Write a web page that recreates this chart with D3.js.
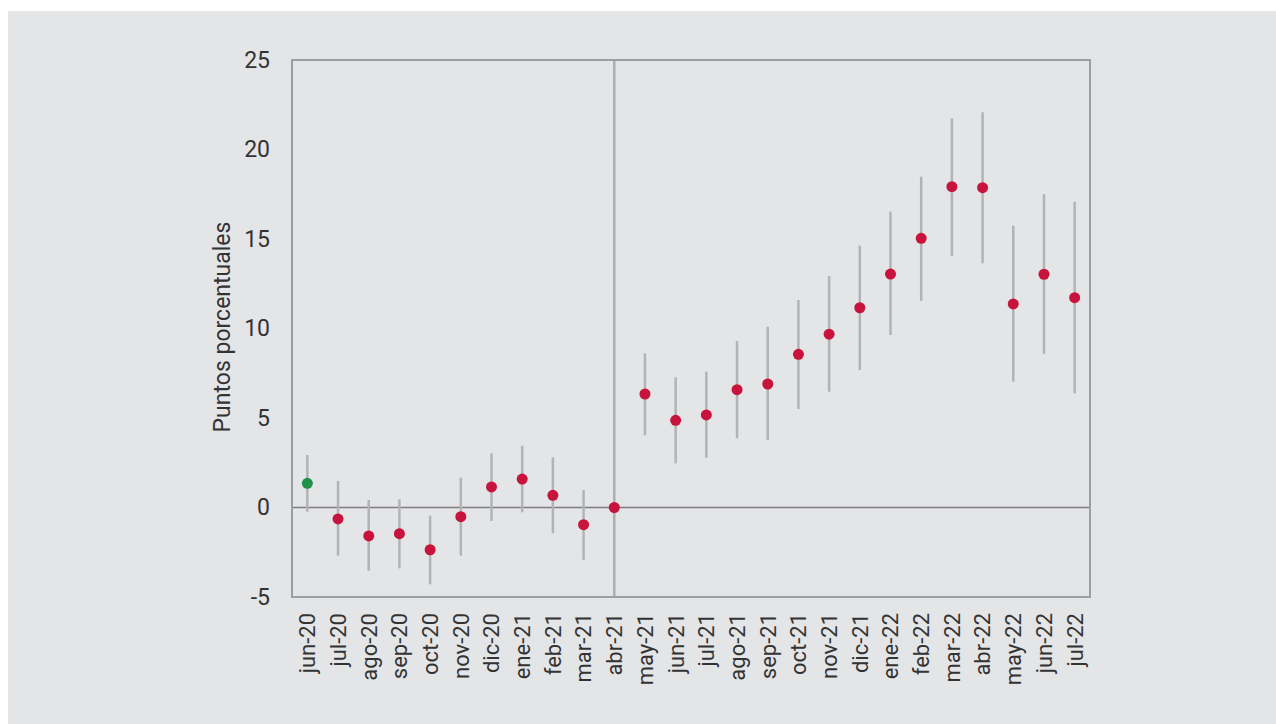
<!DOCTYPE html>
<html><head><meta charset="utf-8">
<script src="https://cdn.jsdelivr.net/npm/d3@7"></script>
<style>html,body{margin:0;padding:0;background:#fff;}svg{display:block;}</style>
</head><body><svg id="c" width="1276" height="724"></svg>
<script>
const cats = ["jun-20","jul-20","ago-20","sep-20","oct-20","nov-20","dic-20","ene-21","feb-21","mar-21","abr-21","may-21","jun-21","jul-21","ago-21","sep-21","oct-21","nov-21","dic-21","ene-22","feb-22","mar-22","abr-22","may-22","jun-22","jul-22"];
const estimate = [1.35,-0.64,-1.59,-1.46,-2.36,-0.51,1.15,1.59,0.68,-0.96,0,6.34,4.87,5.17,6.58,6.9,8.56,9.68,11.16,13.04,15.04,17.92,17.87,11.37,13.03,11.72];
const upper = [2.93,1.48,0.42,0.46,-0.46,1.67,3.03,3.45,2.8,0.98,null,8.61,7.27,7.59,9.3,10.1,11.59,12.93,14.63,16.53,18.48,21.74,22.08,15.74,17.5,17.08];
const lower = [-0.23,-2.69,-3.53,-3.4,-4.29,-2.69,-0.75,-0.27,-1.44,-2.93,null,4.03,2.47,2.78,3.87,3.77,5.5,6.47,7.68,9.64,11.54,14.05,13.64,7.03,8.58,6.38];
const yTicks = [-5,0,5,10,15,20,25];
const yTitle = "Puntos porcentuales";
const referenceCategory = "abr-21";
const baseCategory = "jun-20";

const svg = d3.select("#c");
svg.append("rect").attr("x",8).attr("y",11).attr("width",1268).attr("height",713).attr("fill","#e4e5e7");

const L=292,R=1090,T=60,B=597;
const x = d3.scaleBand().domain(cats).range([L,R]);
const y = d3.scaleLinear().domain([-5,25]).range([B,T]);
const data = cats.map((c,i)=>({c,v:estimate[i],hi:upper[i],lo:lower[i]}));
const cx = c => x(c)+x.bandwidth()/2;
const FONT = "Roboto, 'Noto Sans', sans-serif";

// zero line
svg.append("line").attr("x1",L).attr("x2",R).attr("y1",y(0)).attr("y2",y(0))
  .attr("stroke","#7d7e80").attr("stroke-width",1.5);
// reference vertical line
svg.append("line").attr("x1",cx(referenceCategory)).attr("x2",cx(referenceCategory)).attr("y1",T).attr("y2",B)
  .attr("stroke","#adaeb0").attr("stroke-width",2.5);
// whiskers
svg.append("g").selectAll("line").data(data.filter(d=>d.hi!=null)).join("line")
  .attr("x1",d=>cx(d.c)).attr("x2",d=>cx(d.c)).attr("y1",d=>y(d.hi)).attr("y2",d=>y(d.lo))
  .attr("stroke","#b2b3b5").attr("stroke-width",2.5);
// frame
svg.append("rect").attr("x",L).attr("y",T).attr("width",R-L).attr("height",B-T)
  .attr("fill","none").attr("stroke","#9d9ea0").attr("stroke-width",2);
// dots
svg.append("g").selectAll("circle").data(data).join("circle")
  .attr("cx",d=>cx(d.c)).attr("cy",d=>y(d.v)).attr("r",5.5)
  .attr("fill",d=>d.c===baseCategory?"#1f9148":"#c8143c");

// y axis
const ya = svg.append("g").attr("transform",`translate(${L},0)`)
  .call(d3.axisLeft(y).tickValues(yTicks).tickSize(0).tickPadding(22).tickFormat(d=>d<0?"-"+Math.abs(d):d));
ya.select(".domain").remove();
ya.selectAll("text").attr("font-family",FONT).attr("font-size",23).attr("fill","#333");

// x axis
const xa = svg.append("g").attr("transform",`translate(0,${B})`)
  .call(d3.axisBottom(x).tickSize(0));
xa.select(".domain").remove();
xa.selectAll("text").attr("font-family",FONT).attr("font-size",22).attr("fill","#333")
  .attr("transform","rotate(-90)").attr("text-anchor","end").attr("dx","-16").attr("dy","0.36em").attr("y",0);

// y title
svg.append("text").attr("transform",`translate(230,${327}) rotate(-90)`)
  .attr("text-anchor","middle").attr("font-family",FONT).attr("font-size",23).attr("fill","#333")
  .text(yTitle);
</script></body></html>
